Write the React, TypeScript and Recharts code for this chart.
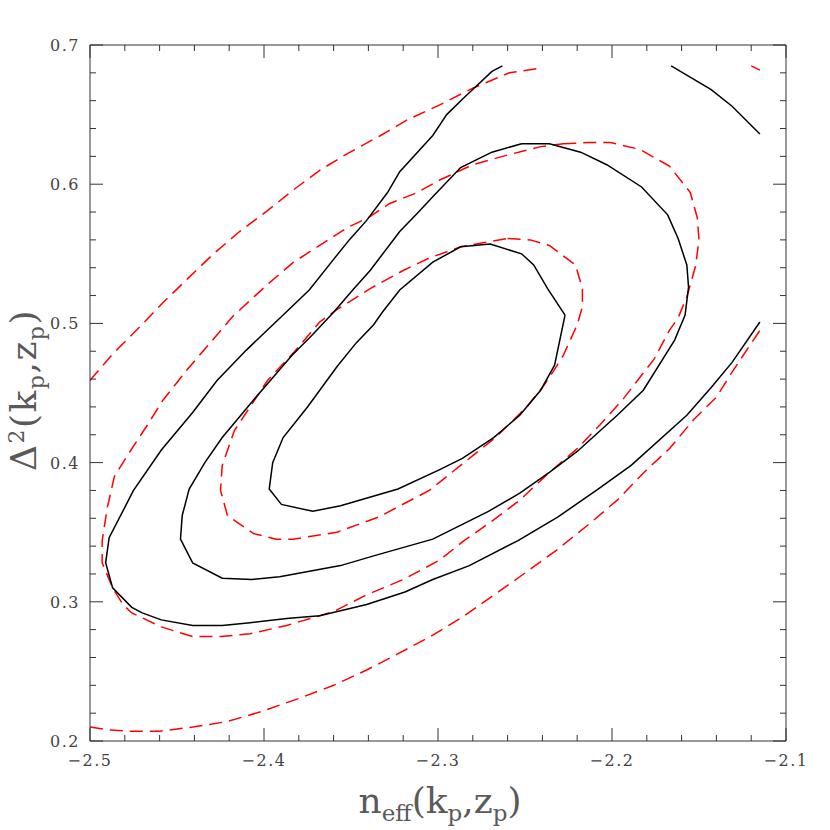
import { LineChart, Line, XAxis, YAxis } from "recharts";

// Confidence contours in the (n_eff, Delta^2) plane.
// Solid black = one model, dashed red = the other. Points are [n_eff, Delta^2].
type Pt = [number, number];

const BLACK_INNER: Pt[] = [
  [-2.227, 0.506], [-2.233, 0.470], [-2.241, 0.452], [-2.253, 0.434], [-2.268, 0.418],
  [-2.286, 0.403], [-2.299, 0.395], [-2.323, 0.381], [-2.356, 0.369], [-2.372, 0.365],
  [-2.390, 0.370], [-2.397, 0.381], [-2.395, 0.400], [-2.389, 0.418], [-2.375, 0.440],
  [-2.358, 0.469], [-2.347, 0.486], [-2.337, 0.499], [-2.332, 0.508], [-2.322, 0.524],
  [-2.303, 0.544], [-2.287, 0.555], [-2.270, 0.557], [-2.252, 0.550], [-2.245, 0.542],
  [-2.237, 0.525], [-2.227, 0.506],
];

const BLACK_MID: Pt[] = [
  [-2.252, 0.629], [-2.236, 0.629], [-2.218, 0.623], [-2.203, 0.614], [-2.183, 0.598],
  [-2.168, 0.578], [-2.162, 0.561], [-2.157, 0.542], [-2.156, 0.526], [-2.158, 0.506],
  [-2.164, 0.488], [-2.182, 0.452], [-2.197, 0.434], [-2.220, 0.408], [-2.236, 0.393],
  [-2.253, 0.378], [-2.271, 0.365], [-2.303, 0.345], [-2.337, 0.333], [-2.356, 0.326],
  [-2.391, 0.318], [-2.407, 0.316], [-2.424, 0.317], [-2.441, 0.328], [-2.448, 0.345],
  [-2.447, 0.362], [-2.443, 0.381], [-2.434, 0.400], [-2.424, 0.418], [-2.406, 0.445],
  [-2.384, 0.477], [-2.372, 0.492], [-2.360, 0.508], [-2.349, 0.524], [-2.339, 0.538],
  [-2.322, 0.566], [-2.312, 0.579], [-2.303, 0.591], [-2.287, 0.612], [-2.269, 0.623],
  [-2.252, 0.629],
];

const BLACK_OUTER: Pt[] = [
  [-2.263, 0.685], [-2.269, 0.681], [-2.286, 0.661], [-2.295, 0.650], [-2.303, 0.635],
  [-2.322, 0.609], [-2.329, 0.594], [-2.341, 0.574], [-2.351, 0.560], [-2.360, 0.546],
  [-2.374, 0.524], [-2.389, 0.506], [-2.410, 0.481], [-2.427, 0.459], [-2.441, 0.436],
  [-2.459, 0.409], [-2.475, 0.380], [-2.489, 0.346], [-2.491, 0.328], [-2.487, 0.310],
  [-2.476, 0.296], [-2.470, 0.292], [-2.459, 0.287], [-2.441, 0.283], [-2.424, 0.283],
  [-2.408, 0.285], [-2.387, 0.288], [-2.368, 0.290], [-2.341, 0.298], [-2.319, 0.307],
  [-2.303, 0.316], [-2.282, 0.326], [-2.254, 0.344], [-2.231, 0.361], [-2.208, 0.381],
  [-2.189, 0.398], [-2.157, 0.434], [-2.143, 0.454], [-2.131, 0.472], [-2.115, 0.501],
];

const BLACK_CORNER: Pt[] = [
  [-2.166, 0.685], [-2.143, 0.668], [-2.131, 0.656], [-2.115, 0.636],
];

const RED_INNER: Pt[] = [
  [-2.260, 0.561], [-2.247, 0.560], [-2.236, 0.556], [-2.221, 0.542], [-2.217, 0.525],
  [-2.217, 0.512], [-2.220, 0.499], [-2.228, 0.477], [-2.234, 0.465], [-2.240, 0.454],
  [-2.249, 0.440], [-2.267, 0.418], [-2.280, 0.405], [-2.299, 0.386], [-2.305, 0.380],
  [-2.334, 0.361], [-2.358, 0.350], [-2.383, 0.345], [-2.393, 0.345], [-2.406, 0.349],
  [-2.421, 0.362], [-2.425, 0.380], [-2.424, 0.398], [-2.417, 0.423], [-2.408, 0.440],
  [-2.398, 0.459], [-2.383, 0.479], [-2.368, 0.501], [-2.358, 0.510], [-2.339, 0.525],
  [-2.320, 0.538], [-2.305, 0.547], [-2.287, 0.555], [-2.274, 0.558], [-2.260, 0.561],
];

const RED_MID: Pt[] = [
  [-2.228, 0.629], [-2.213, 0.630], [-2.201, 0.630], [-2.184, 0.625], [-2.167, 0.613],
  [-2.155, 0.594], [-2.151, 0.576], [-2.150, 0.560], [-2.152, 0.541], [-2.157, 0.519],
  [-2.162, 0.504], [-2.167, 0.495], [-2.176, 0.474], [-2.194, 0.445], [-2.207, 0.427],
  [-2.220, 0.410], [-2.236, 0.393], [-2.253, 0.373], [-2.270, 0.357], [-2.286, 0.343],
  [-2.299, 0.330], [-2.320, 0.316], [-2.341, 0.305], [-2.360, 0.293], [-2.387, 0.283],
  [-2.408, 0.277], [-2.425, 0.275], [-2.441, 0.275], [-2.459, 0.282], [-2.476, 0.292],
  [-2.481, 0.298], [-2.487, 0.310], [-2.493, 0.328], [-2.493, 0.344], [-2.490, 0.368],
  [-2.486, 0.390], [-2.477, 0.408], [-2.467, 0.427], [-2.458, 0.445], [-2.444, 0.467],
  [-2.433, 0.483], [-2.418, 0.505], [-2.398, 0.528], [-2.383, 0.544], [-2.368, 0.556],
  [-2.352, 0.569], [-2.340, 0.576], [-2.328, 0.586], [-2.312, 0.594], [-2.299, 0.603],
  [-2.280, 0.614], [-2.260, 0.621], [-2.241, 0.627], [-2.228, 0.629],
];

const RED_OUTER_UPPER: Pt[] = [
  [-2.500, 0.459], [-2.487, 0.478], [-2.471, 0.498], [-2.458, 0.515], [-2.444, 0.532],
  [-2.429, 0.550], [-2.414, 0.566], [-2.398, 0.581], [-2.383, 0.596], [-2.368, 0.610],
  [-2.352, 0.622], [-2.333, 0.635], [-2.318, 0.646], [-2.299, 0.657], [-2.280, 0.669],
  [-2.259, 0.680], [-2.243, 0.683],
];

const RED_OUTER_LOWER: Pt[] = [
  [-2.500, 0.210], [-2.489, 0.208], [-2.477, 0.207], [-2.460, 0.207], [-2.441, 0.210],
  [-2.421, 0.214], [-2.402, 0.221], [-2.379, 0.231], [-2.360, 0.240], [-2.341, 0.251],
  [-2.324, 0.262], [-2.303, 0.276], [-2.286, 0.289], [-2.270, 0.303], [-2.253, 0.318],
  [-2.232, 0.337], [-2.214, 0.355], [-2.197, 0.373], [-2.180, 0.395], [-2.167, 0.410],
  [-2.153, 0.431], [-2.140, 0.447], [-2.131, 0.465], [-2.115, 0.495],
];

const RED_CORNER: Pt[] = [
  [-2.120, 0.685], [-2.115, 0.682],
];

const X_DOMAIN: [number, number] = [-2.5, -2.1];
const Y_DOMAIN: [number, number] = [0.2, 0.7];
const X_MAJOR = [-2.5, -2.4, -2.3, -2.2, -2.1];
const Y_MAJOR = [0.2, 0.3, 0.4, 0.5, 0.6, 0.7];

// minor ticks every 0.02 between the majors
const withMinors = (majors: number[]) => {
  const out: number[] = [];
  for (let i = 0; i < majors.length - 1; i++) {
    for (let k = 0; k < 5; k++) out.push(Math.round((majors[i] + k * 0.02) * 100) / 100);
  }
  out.push(majors[majors.length - 1]);
  return out;
};
const X_TICKS = withMinors(X_MAJOR);
const Y_TICKS = withMinors(Y_MAJOR);

const SERIES = [
  { id: "redOuterLower", pts: RED_OUTER_LOWER, color: "#ff0000", dash: "13 7" },
  { id: "redOuterUpper", pts: RED_OUTER_UPPER, color: "#ff0000", dash: "13 7" },
  { id: "redCorner", pts: RED_CORNER, color: "#ff0000", dash: "13 7" },
  { id: "redMid", pts: RED_MID, color: "#ff0000", dash: "13 7" },
  { id: "redInner", pts: RED_INNER, color: "#ff0000", dash: "13 7" },
  { id: "blackOuter", pts: BLACK_OUTER, color: "#000000", dash: undefined },
  { id: "blackCorner", pts: BLACK_CORNER, color: "#000000", dash: undefined },
  { id: "blackMid", pts: BLACK_MID, color: "#000000", dash: undefined },
  { id: "blackInner", pts: BLACK_INNER, color: "#000000", dash: undefined },
];

const AXIS = "#333";
const TICK_FONT = { fontFamily: "DejaVu Serif", fontSize: 16, letterSpacing: 1.5, fill: "#444" };
const TITLE_FONT = { fontFamily: "DejaVu Serif", fontSize: 36, fill: "#5a5a5a" };
const isMajor = (v: number) => Math.abs(v * 10 - Math.round(v * 10)) < 1e-6;
const fmt = (v: number) => v.toFixed(1).replace("-", "\u2212");
const len = (v: number) => (isMajor(v) ? 13 : 6);

function BottomTick({ x, y, payload }: any) {
  const v = payload.value;
  return (
    <g>
      <line x1={x} x2={x} y1={y} y2={y - len(v)} stroke={AXIS} />
      {isMajor(v) && (
        <text x={x} y={y + 25} textAnchor="middle" {...TICK_FONT}>{fmt(v)}</text>
      )}
    </g>
  );
}

function TopTick({ x, y, payload }: any) {
  return <line x1={x} x2={x} y1={y} y2={y + len(payload.value)} stroke={AXIS} />;
}

function LeftTick({ x, y, payload }: any) {
  const v = payload.value;
  return (
    <g>
      <line x1={x} x2={x + len(v)} y1={y} y2={y} stroke={AXIS} />
      {isMajor(v) && (
        <text x={x - 10} y={y + 6} textAnchor="end" {...TICK_FONT}>{fmt(v)}</text>
      )}
    </g>
  );
}

function RightTick({ x, y, payload }: any) {
  return <line x1={x} x2={x - len(payload.value)} y1={y} y2={y} stroke={AXIS} />;
}

export default function App() {
  return (
    <div style={{ position: "absolute", left: 0, top: 0, width: 830, height: 830, background: "#fff" }}>
      <LineChart width={830} height={830} margin={{ top: 35, right: 34, bottom: 49, left: 30 }}>
        <XAxis
          xAxisId="b" type="number" dataKey="x" domain={X_DOMAIN} allowDataOverflow
          ticks={X_TICKS} interval={0} tickSize={0} tickMargin={0} height={40}
          axisLine={{ stroke: AXIS }} tickLine={false} tick={<BottomTick />}
        />
        <XAxis
          xAxisId="t" orientation="top" type="number" dataKey="x" domain={X_DOMAIN} allowDataOverflow
          ticks={X_TICKS} interval={0} tickSize={0} tickMargin={0} height={10}
          axisLine={{ stroke: AXIS }} tickLine={false} tick={<TopTick />}
        />
        <YAxis
          yAxisId="l" type="number" dataKey="y" domain={Y_DOMAIN} allowDataOverflow
          ticks={Y_TICKS} interval={0} tickSize={0} tickMargin={0} width={60}
          axisLine={{ stroke: AXIS }} tickLine={false} tick={<LeftTick />}
        />
        <YAxis
          yAxisId="r" orientation="right" type="number" dataKey="y" domain={Y_DOMAIN} allowDataOverflow
          ticks={Y_TICKS} interval={0} tickSize={0} tickMargin={0} width={10}
          axisLine={{ stroke: AXIS }} tickLine={false} tick={<RightTick />}
        />
        {SERIES.map((s) => (
          <Line
            key={s.id}
            xAxisId="b"
            yAxisId="l"
            data={s.pts.map(([x, y]) => ({ x, y }))}
            dataKey="y"
            type="linear"
            stroke={s.color}
            strokeWidth={1.5}
            strokeDasharray={s.dash}
            dot={false}
            activeDot={false}
            isAnimationActive={false}
          />
        ))}
      </LineChart>

      {/* axis titles */}
      <svg width={830} height={830} style={{ position: "absolute", left: 0, top: 0, pointerEvents: "none" }}>
        <text x={440} y={813} textAnchor="middle" {...TITLE_FONT}>
          n<tspan fontSize={23} dy={8}>eff</tspan>
          <tspan dy={-8}>(k</tspan>
          <tspan fontSize={23} dy={8}>p</tspan>
          <tspan dy={-8}>,z</tspan>
          <tspan fontSize={23} dy={8}>p</tspan>
          <tspan dy={-8}>)</tspan>
        </text>
        <text
          x={36} y={390} transform="rotate(-90, 36, 390)" textAnchor="middle"
          letterSpacing={1.5} {...TITLE_FONT}
        >
          Δ<tspan fontSize={22} dy={-12}>2</tspan>
          <tspan dy={12}>(k</tspan>
          <tspan fontSize={22} dy={8}>p</tspan>
          <tspan dy={-8}>,z</tspan>
          <tspan fontSize={22} dy={8}>p</tspan>
          <tspan dy={-8}>)</tspan>
        </text>
      </svg>
    </div>
  );
}
